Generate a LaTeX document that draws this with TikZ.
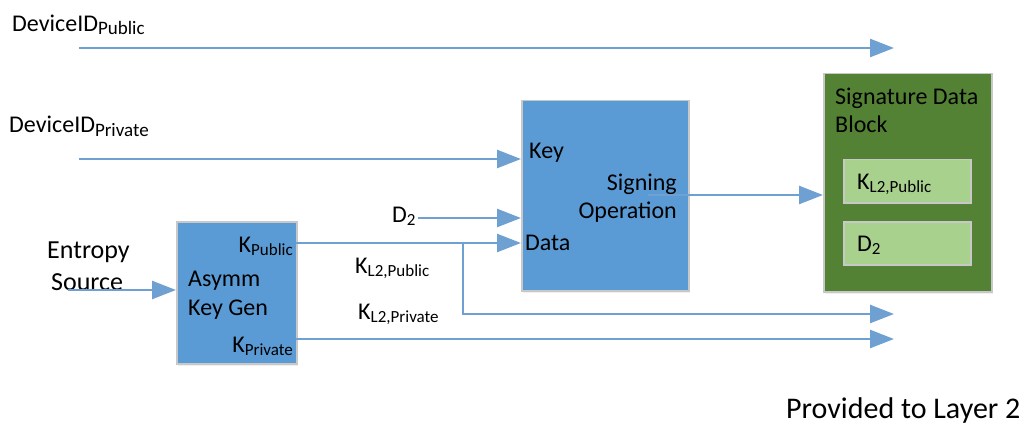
\documentclass[tikz,border=0pt]{standalone}
\usepackage{fontspec}
\setmainfont{Carlito}
\usetikzlibrary{arrows.meta,shadows}
\definecolor{flowblue}{HTML}{6FA0D2}
\definecolor{boxblue}{HTML}{5B9BD5}
\definecolor{boxedge}{HTML}{C8C8C8}
\definecolor{darkgreen}{HTML}{548235}
\definecolor{lightgreen}{HTML}{A9D18E}
% lowered subscript in a smaller size
\newcommand\lowsub[2][17]{\raisebox{-3pt}{\fontsize{#1}{#1}\selectfont #2}}
\begin{document}
\begin{tikzpicture}[x=1pt,y=-1pt,
  lbl/.style={inner sep=0pt, anchor=base west, font=\fontsize{24}{28}\selectfont},
  lblr/.style={lbl, anchor=base east},
  boxbase/.style={draw=boxedge, line width=1.5pt, anchor=north west, inner sep=0pt,
    drop shadow={opacity=0.12, shadow xshift=1.5pt, shadow yshift=-2.5pt}},
  procbox/.style={boxbase, fill=boxblue},
  outbox/.style={boxbase, fill=darkgreen},
  fieldbox/.style={boxbase, fill=lightgreen, minimum width=127pt, minimum height=43pt},
  wire/.style={draw=flowblue, line width=2.5pt},
  flow/.style={wire, -{Triangle[length=24pt,width=18pt]}}]
\useasboundingbox (0,0) rectangle (1036,425);

% processing blocks
\node[procbox, minimum width=120pt, minimum height=142pt] (asym) at (176,221) {};
\node[procbox, minimum width=167pt, minimum height=190pt] (sign) at (521,100) {};
\node[outbox, minimum width=168pt, minimum height=218pt] (sdb) at (823,73) {};
\node[fieldbox] (fkey) at (843,159) {};
\node[fieldbox] (fd2) at (843,221) {};

% labels
\node[lbl] (tdpub) at (12,32) {DeviceID\lowsub[19]{Public}};
\node[lbl] (tdpriv) at (9,133) {DeviceID\lowsub[19]{Private}};
\node[lbl, font=\fontsize{26}{30}\selectfont] (tent1) at (47,258) {Entropy};
\node[lbl, font=\fontsize{26}{30}\selectfont] (tent2) at (51,290) {Source};
\node[lblr] (tkpub) at (293,252) {K\lowsub{Public}};
\node[lbl] (tasym) at (188,286) {Asymm};
\node[lbl] (tkeygen) at (188,315) {Key Gen};
\node[lblr] (tkpriv) at (293,352) {K\lowsub{Private}};
\node[lbl] (td2) at (392,222) {D\lowsub{2}};
\node[lbl] (tkl2pub) at (355,273) {K\lowsub{L2,Public}};
\node[lbl] (tkl2priv) at (358,319) {K\lowsub{L2,Private}};
\node[lbl] (tkey) at (529,158) {Key};
\node[lblr] (tsign1) at (677,190) {Signing};
\node[lblr] (tsign2) at (677,218) {Operation};
\node[lbl] (tdata) at (525,250) {Data};
\node[lbl] (tsdb1) at (835,105) {Signature Data};
\node[lbl] (tsdb2) at (835,133) {Block};
\node[lbl] (tfkey) at (857,189) {K\lowsub{L2,Public}};
\node[lbl] (tfd2) at (857,251) {D\lowsub{2}};
\node[lbl, font=\fontsize{30}{34}\selectfont] (tlayer) at (786,418) {Provided to Layer 2};

% free ends of the connectors
\coordinate (dpubS) at (79,48);
\coordinate (dpubE) at (894,48);
\coordinate (dprivS) at (79,159);
\coordinate (entS) at (68,290);
\coordinate (d2S) at (418,218);
\coordinate (kpubS) at (296,243);
\coordinate (branch) at (463,243);
\coordinate (bend) at (463,314);
\coordinate (kl2pubE) at (894,314);
\coordinate (kprivS) at (296,339);
\coordinate (kprivE) at (894,339);
\coordinate (sigS) at (648,195);

% connectors
\draw[flow] (dpubS) -- (dpubE);
\draw[flow] (dprivS) -- (dprivS -| sign.west);
\draw[flow] (entS) -- (entS -| asym.west);
\draw[flow] (d2S) -- (d2S -| sign.west);
\draw[flow] (kpubS) -- (kpubS -| sign.west);
\draw[flow] (branch) -- (bend) -- (kl2pubE);
\draw[flow] (kprivS) -- (kprivE);
\draw[flow] (sigS) -- (sigS -| sdb.west);
\end{tikzpicture}
\end{document}
